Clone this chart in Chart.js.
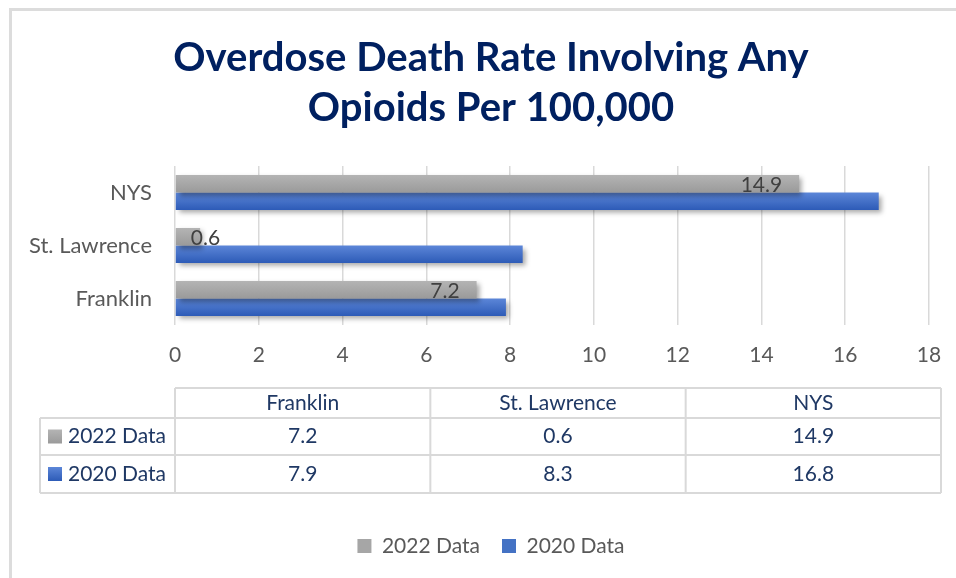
<!DOCTYPE html>
<html>
<head>
<meta charset="utf-8">
<script src="https://cdn.jsdelivr.net/npm/chart.js@4.4.1/dist/chart.umd.min.js"></script>
<style>
  body { margin: 0; background: #fff; overflow: hidden; }
  #wrap { position: relative; width: 956px; height: 578px; }
  #frame { position: absolute; left: 9px; top: 8px; right: -10px; bottom: -10px;
           border-left: 3px solid #dcdcdc; border-top: 3px solid #dcdcdc; pointer-events: none; }
</style>
</head>
<body>
<div id="wrap">
  <canvas id="chart" width="956" height="578"></canvas>
  <div id="frame"></div>
</div>
<script>
const counties = ['Franklin', 'St. Lawrence', 'NYS'];
const rate2022 = [7.2, 0.6, 14.9];
const rate2020 = [7.9, 8.3, 16.8];
const seriesNames = ['2022 Data', '2020 Data'];
const xMax = 18;
const xStep = 2;

const FONT = 'Lato, "Open Sans", sans-serif';
const NAVY = '#1f3864';
const GREY_TEXT = '#595959';
const GRID = '#d9d9d9';

// top/bottom colours of each bar's vertical shading
const shades = [['#b4b4b4', '#9a9a9a'], ['#5c86d8', '#2d5bb7']];

// per-bar gradient + soft drop shadow, then value labels on the 2022 bars
const barLook = {
  id: 'barLook',
  beforeDatasetsDraw(chart) {
    const ctx = chart.ctx;
    chart.data.datasets.forEach((ds, i) => {
      chart.getDatasetMeta(i).data.forEach(bar => {
        const top = bar.y - bar.height / 2;
        const g = ctx.createLinearGradient(0, top, 0, top + bar.height);
        g.addColorStop(0, shades[i][0]);
        g.addColorStop(1, shades[i][1]);
        bar.options = Object.assign({}, bar.options, { backgroundColor: g });
      });
    });
    ctx.save();
    ctx.shadowColor = 'rgba(0,0,0,0.35)';
    ctx.shadowBlur = 5;
    ctx.shadowOffsetX = 3;
    ctx.shadowOffsetY = 3;
  },
  afterDatasetsDraw(chart) {
    const ctx = chart.ctx;
    ctx.restore();
    ctx.save();
    ctx.font = '21px ' + FONT;
    ctx.fillStyle = '#404040';
    ctx.textBaseline = 'middle';
    ctx.textAlign = 'left';
    chart.getDatasetMeta(0).data.forEach((bar, i) => {
      const txt = String(rate2022[i]);
      const w = ctx.measureText(txt).width;
      const x = Math.max(bar.x - 17 - w, bar.base + 15);
      ctx.fillText(txt, x, bar.y + 1);
    });
    ctx.restore();
  }
};

// data table under the axis
const dataTable = {
  id: 'dataTable',
  afterDraw(chart) {
    const ctx = chart.ctx;
    const area = chart.chartArea;
    const left = area.left, right = chart.width - 15, labelLeft = 40;
    const colW = (right - left) / counties.length;
    const y0 = area.bottom + 63, y1 = area.bottom + 93, y2 = area.bottom + 130, y3 = area.bottom + 168;
    ctx.save();
    ctx.strokeStyle = GRID;
    ctx.lineWidth = 2;
    ctx.beginPath();
    ctx.moveTo(left, y0); ctx.lineTo(right, y0);
    [y1, y2, y3].forEach(y => { ctx.moveTo(labelLeft, y); ctx.lineTo(right, y); });
    ctx.moveTo(labelLeft, y1); ctx.lineTo(labelLeft, y3);
    for (let c = 0; c <= counties.length; c++) {
      const x = left + c * colW;
      ctx.moveTo(x, y0); ctx.lineTo(x, y3);
    }
    ctx.stroke();

    ctx.font = '21px ' + FONT;
    ctx.fillStyle = NAVY;
    ctx.textBaseline = 'middle';
    ctx.textAlign = 'center';
    const rows = [rate2022, rate2020];
    counties.forEach((name, c) => {
      const cx = left + colW * (c + 0.5);
      ctx.fillText(name, cx, (y0 + y1) / 2);
      ctx.fillText(String(rows[0][c]), cx, (y1 + y2) / 2);
      ctx.fillText(String(rows[1][c]), cx, (y2 + y3) / 2);
    });
    ctx.textAlign = 'left';
    [[y1, y2], [y2, y3]].forEach(([a, b], r) => {
      const cy = (a + b) / 2;
      const g = ctx.createLinearGradient(0, cy - 7, 0, cy + 7);
      g.addColorStop(0, shades[r][0]);
      g.addColorStop(1, shades[r][1]);
      ctx.fillStyle = g;
      ctx.fillRect(48, cy - 7, 14, 14);
      ctx.fillStyle = NAVY;
      ctx.fillText(seriesNames[r], 68, cy);
    });
    ctx.restore();
  }
};

new Chart(document.getElementById('chart'), {
  type: 'bar',
  data: {
    labels: counties,
    datasets: [
      { label: seriesNames[0], data: rate2022, backgroundColor: () => '#a6a6a6', borderWidth: 0 },
      { label: seriesNames[1], data: rate2020, backgroundColor: () => '#4472c4', borderWidth: 0 }
    ]
  },
  options: {
    indexAxis: 'y',
    responsive: false,
    devicePixelRatio: 1,
    animation: false,
    categoryPercentage: 0.66,
    barPercentage: 1.0,
    layout: { padding: { left: 26, right: 0, top: 0, bottom: 11.5 } },
    scales: {
      x: {
        min: 0,
        max: xMax,
        ticks: { stepSize: xStep, color: GREY_TEXT, font: { family: FONT, size: 21 }, padding: 18 },
        grid: { color: GRID, lineWidth: 1.5, drawTicks: false },
        border: { display: false },
        afterFit(scale) { scale.height = 188.5; scale.paddingRight = 27; }
      },
      y: {
        reverse: true,
        ticks: { color: GREY_TEXT, font: { family: FONT, size: 22 }, padding: 23 },
        grid: { display: false, drawTicks: false },
        border: { display: false },
        afterFit(scale) { scale.width = 149; }
      }
    },
    plugins: {
      title: {
        display: true,
        text: ['Overdose Death Rate Involving Any', 'Opioids Per 100,000'],
        color: '#002060',
        font: { family: FONT, weight: 'bold', size: 40, lineHeight: 1.25 },
        padding: { top: 33, bottom: 33 }
      },
      legend: {
        position: 'bottom',
        labels: {
          boxWidth: 14,
          boxHeight: 14,
          padding: 22,
          color: GREY_TEXT,
          font: { family: FONT, size: 21 }
        }
      },
      tooltip: { enabled: false }
    }
  },
  plugins: [barLook, dataTable]
});
</script>
</body>
</html>
